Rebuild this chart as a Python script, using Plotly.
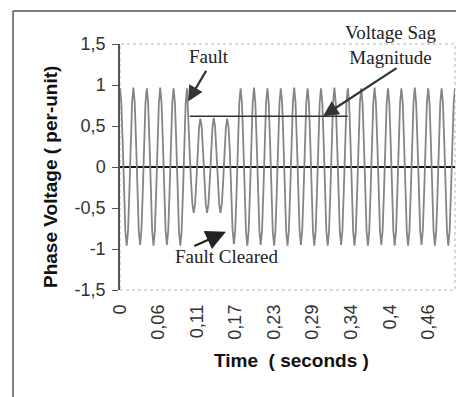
import plotly.graph_objects as go

# ---------------- data ----------------
SAMPLE_STEP = 0.002  # seconds between samples (10 samples per 50 Hz cycle)

# phase voltage in per-unit, one row per 20 ms cycle
voltage = [
    0.96, 0.78, 0.30, -0.30, -0.78, -0.96, -0.78, -0.30, 0.30, 0.78,   # 0.00
    0.97, 0.78, 0.30, -0.30, -0.77, -0.95, -0.77, -0.30, 0.30, 0.78,   # 0.02
    0.96, 0.78, 0.30, -0.30, -0.78, -0.96, -0.78, -0.30, 0.30, 0.78,   # 0.04
    0.97, 0.78, 0.30, -0.30, -0.77, -0.95, -0.77, -0.30, 0.30, 0.78,   # 0.06
    0.96, 0.78, 0.30, -0.30, -0.78, -0.96, -0.78, -0.30, 0.30, 0.78,   # 0.08
    0.96, 0.47, 0.18, -0.17, -0.45, -0.56, -0.45, -0.17, 0.18, 0.48,   # 0.10 fault
    0.59, 0.48, 0.18, -0.17, -0.45, -0.56, -0.45, -0.17, 0.18, 0.48,   # 0.12
    0.60, 0.48, 0.18, -0.17, -0.45, -0.56, -0.45, -0.17, 0.18, 0.48,   # 0.14
    0.59, 0.48, 0.18, -0.30, -0.76, -0.94, -0.77, -0.30, 0.30, 0.78,   # 0.16 cleared
    0.96, 0.78, 0.30, -0.30, -0.78, -0.96, -0.78, -0.30, 0.30, 0.78,   # 0.18
    0.97, 0.78, 0.30, -0.30, -0.77, -0.95, -0.77, -0.30, 0.30, 0.78,   # 0.20
    0.96, 0.78, 0.30, -0.30, -0.78, -0.96, -0.78, -0.30, 0.30, 0.78,   # 0.22
    0.96, 0.78, 0.30, -0.30, -0.78, -0.96, -0.78, -0.30, 0.30, 0.78,   # 0.24
    0.97, 0.78, 0.30, -0.30, -0.77, -0.95, -0.77, -0.30, 0.30, 0.78,   # 0.26
    0.96, 0.78, 0.30, -0.30, -0.78, -0.96, -0.78, -0.30, 0.30, 0.78,   # 0.28
    0.96, 0.78, 0.30, -0.30, -0.78, -0.96, -0.78, -0.30, 0.30, 0.78,   # 0.30
    0.97, 0.78, 0.30, -0.30, -0.77, -0.95, -0.77, -0.30, 0.30, 0.78,   # 0.32
    0.96, 0.78, 0.30, -0.30, -0.78, -0.96, -0.78, -0.30, 0.30, 0.78,   # 0.34
    0.96, 0.78, 0.30, -0.30, -0.78, -0.96, -0.78, -0.30, 0.30, 0.78,   # 0.36
    0.97, 0.78, 0.30, -0.30, -0.77, -0.95, -0.77, -0.30, 0.30, 0.78,   # 0.38
    0.96, 0.78, 0.30, -0.30, -0.78, -0.96, -0.78, -0.30, 0.30, 0.78,   # 0.40
    0.96, 0.78, 0.30, -0.30, -0.78, -0.96, -0.78, -0.30, 0.30, 0.78,   # 0.42
    0.97, 0.78, 0.30, -0.30, -0.77, -0.95, -0.77, -0.30, 0.30, 0.78,   # 0.44
    0.96, 0.78, 0.30, -0.30, -0.78, -0.96, -0.78, -0.30, 0.30, 0.78,   # 0.46
    0.96, 0.78, 0.30, -0.30, -0.78, -0.96, -0.78, -0.30, 0.30, 0.78,   # 0.48
    0.96,                                                               # 0.50
]
time_s = [round(i * SAMPLE_STEP, 4) for i in range(len(voltage))]

x_tick_vals = [0, 0.0575, 0.115, 0.1725, 0.23, 0.2875, 0.345, 0.4025, 0.46]
x_tick_text = ["0", "0,06", "0,11", "0,17", "0,23", "0,29", "0,34", "0,4", "0,46"]
y_tick_vals = [-1.5, -1, -0.5, 0, 0.5, 1, 1.5]
y_tick_text = ["-1,5", "-1", "-0,5", "0", "0,5", "1", "1,5"]

sag_level = 0.62
sag_line_t = [0.104, 0.34]

# ---------------- layout geometry (pixels) ----------------
OFF = 8                      # page body margin
W, H = 464 - OFF, 397 - OFF
L, T = 120 - OFF, 44 - OFF
PW, PH = 335, 246
R, B = W - L - PW, H - T - PH


def px(xp):   # window pixel x -> paper fraction
    return (xp - OFF - L) / PW


def py(yp):   # window pixel y -> paper fraction
    return (T + PH - (yp - OFF)) / PH


fig = go.Figure()
fig.add_trace(go.Scatter(
    x=time_s, y=voltage, mode="lines",
    line=dict(color="#858585", width=1.8),
    hoverinfo="skip", showlegend=False,
))
# sag magnitude reference line
fig.add_trace(go.Scatter(
    x=sag_line_t, y=[sag_level, sag_level], mode="lines",
    line=dict(color="#333333", width=1.5),
    hoverinfo="skip", showlegend=False,
))

shapes = [
    dict(type="rect", xref="paper", yref="paper", x0=0, x1=1, y0=0, y1=1,
         line=dict(color="#b5b5b5", width=1, dash="dot"), layer="below"),
    dict(type="line", xref="paper", yref="paper", x0=px(13), x1=px(13),
         y0=py(11), y1=py(400), line=dict(color="#555555", width=1.5)),
    dict(type="line", xref="paper", yref="paper", x0=px(13), x1=px(470),
         y0=py(11), y1=py(11), line=dict(color="#555555", width=1.5)),
]

serif = dict(family="Liberation Serif, Times New Roman, serif", size=19, color="#222222")
sans_b = dict(family="Liberation Sans, Arial, sans-serif", size=19, color="#111111")
annotations = [
    dict(text="Fault", xref="paper", yref="paper", x=px(209), y=py(56),
         showarrow=False, font=serif, xanchor="center", yanchor="middle"),
    dict(text="Voltage Sag<br>Magnitude", xref="paper", yref="paper",
         x=px(390), y=py(45), showarrow=False, font=serif,
         xanchor="center", yanchor="middle"),
    dict(text="Fault Cleared", xref="paper", yref="paper", x=px(226), y=py(256),
         showarrow=False, font=serif, xanchor="center", yanchor="middle"),
    dict(text="", x=0.1015, y=0.80, xref="x", yref="y", ax=19, ay=-32,
         showarrow=True, arrowhead=2, arrowsize=1.4, arrowwidth=2.2, arrowcolor="#333333"),
    dict(text="", x=0.303, y=0.62, xref="x", yref="y", ax=75, ay=-49,
         showarrow=True, arrowhead=2, arrowsize=1.4, arrowwidth=2.2, arrowcolor="#333333"),
    dict(text="", x=0.158, y=-0.79, xref="x", yref="y", ax=-33, ay=15,
         showarrow=True, arrowhead=2, arrowsize=1.8, arrowwidth=2.2, arrowcolor="#222222"),
    dict(text="<b>Time&nbsp;&nbsp;(&nbsp;seconds&nbsp;)</b>", xref="paper", yref="paper",
         x=px(291), y=py(360), showarrow=False, xanchor="center", yanchor="middle",
         font=sans_b),
    dict(text="<b>Phase Voltage ( per-unit)</b>", xref="paper", yref="paper",
         x=px(50), y=py(177), showarrow=False, textangle=-90,
         xanchor="center", yanchor="middle", font=sans_b),
]

tick_font = dict(family="Liberation Sans, Arial, sans-serif", size=18, color="#333333")
fig.update_layout(
    width=W, height=H,
    margin=dict(l=L, r=R, t=T, b=B, pad=0),
    paper_bgcolor="white", plot_bgcolor="white",
    shapes=shapes, annotations=annotations,
    xaxis=dict(
        range=[0, 0.5], tickmode="array", tickvals=x_tick_vals, ticktext=x_tick_text,
        tickangle=-90, showgrid=False, zeroline=False, showline=False,
        ticks="", ticklabelstandoff=10, tickfont=tick_font,
    ),
    yaxis=dict(
        range=[-1.5, 1.5], tickmode="array", tickvals=y_tick_vals, ticktext=y_tick_text,
        showgrid=False, zeroline=True, zerolinecolor="#111111", zerolinewidth=1.5,
        showline=True, linecolor="#555555", linewidth=1.5,
        ticks="outside", ticklen=6, tickcolor="#555555", ticklabelstandoff=3,
        tickfont=tick_font,
    ),
)

fig.write_html("out.html")
